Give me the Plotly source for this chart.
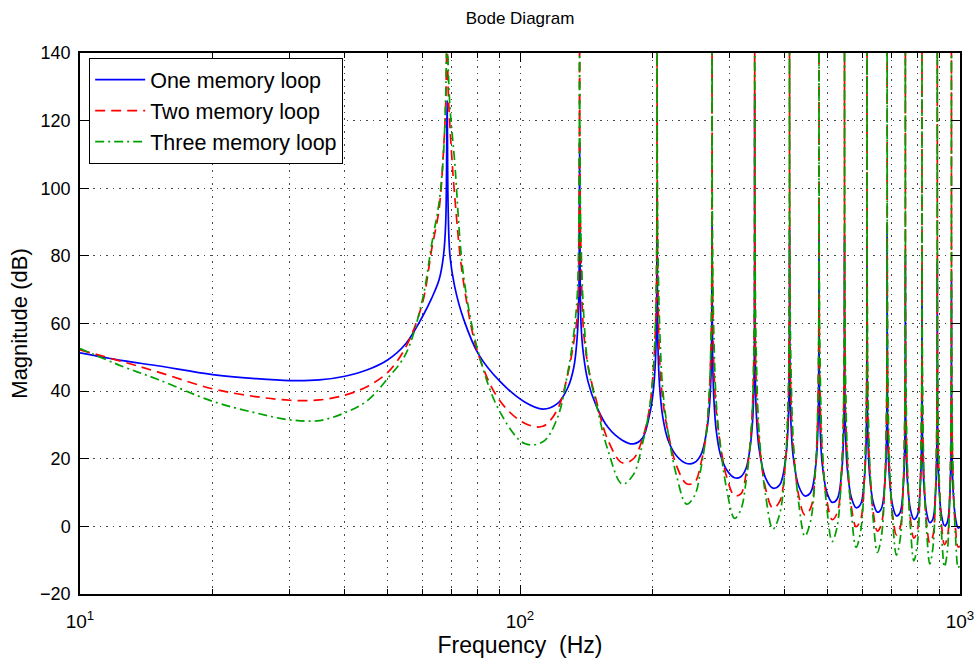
import plotly.graph_objects as go

# ---------------- data ----------------
freq = [
    10, 12.5, 15, 20, 25, 30, 35, 40, 45, 50, 55, 60, 63, 65.5, 67, 67.8, 68.3,
    68.64, 69.32, 71.03, 74.45, 80.59, 90.16, 102.45, 112.7, 121.57, 128.4, 132.5, 134.89, 136.05, 136.6,
    136.94, 137.62, 139.33, 142.75, 148.89, 158.46, 170.75, 181.0, 189.87, 196.7, 200.8, 203.19, 204.35, 204.9,
    205.24, 205.92, 207.63, 211.05, 217.19, 226.76, 239.05, 249.3, 258.17, 265.0, 269.1, 271.49, 272.65, 273.2,
    273.54, 274.22, 275.93, 279.35, 285.49, 295.06, 307.35, 317.6, 326.47, 333.3, 337.4, 339.79, 340.95, 341.5,
    342.18, 344.23, 349.7, 361.99, 375.65, 389.31, 401.6, 407.07, 409.12, 409.8,
    410.48, 412.53, 418.0, 430.29, 443.95, 457.61, 469.9, 475.37, 477.42, 478.1,
    478.78, 480.83, 486.3, 498.59, 512.25, 525.91, 538.2, 543.67, 545.72, 546.4,
    547.08, 549.13, 554.6, 566.89, 580.55, 594.21, 606.5, 611.97, 614.02, 614.7,
    615.38, 617.43, 622.9, 635.19, 648.85, 662.51, 674.8, 680.27, 682.32, 683.0,
    683.68, 685.73, 691.2, 703.49, 717.15, 730.81, 743.1, 748.57, 750.62, 751.3,
    751.98, 754.03, 759.5, 771.79, 785.45, 799.11, 811.4, 816.87, 818.92, 819.6,
    820.28, 822.33, 827.8, 840.09, 853.75, 867.41, 879.7, 885.17, 887.22, 887.9,
    888.58, 890.63, 896.1, 908.39, 922.05, 935.71, 948.0, 953.47, 955.52, 956.2,
    956.88, 958.93, 964.4, 976.69, 990.35, 1000,
]

mag_one = [
    51.3, 49.0, 47.5, 44.9, 43.7, 43.1, 43.3, 44.4, 46.3, 49.2, 54.0, 62.0, 67.5, 73.0, 80.0, 90.0, 126,
    95, 80, 71, 61.3, 50.8, 42.8, 36.8, 34.7, 36.3, 41, 47, 56, 68, 113,
    79, 60, 51, 42.8, 35.8, 29.3, 25.5, 24.4, 26.1, 32.6, 39.8, 49.3, 62.3, 100,
    70.4, 52.4, 41.4, 32.4, 25.4, 20.9, 18.6, 18.9, 21.4, 27.4, 34.4, 43.4, 56.4, 92,
    66.2, 48.2, 37.2, 28.2, 21.2, 16.7, 14.4, 14.7, 17.2, 23.2, 30.2, 39.2, 52.2, 128,
    53.1, 34.1, 22.6, 14.1, 11.3, 12.3, 20.1, 31.1, 47.1, 88,
    50.8, 31.8, 20.3, 11.8, 9.0, 10.0, 17.8, 28.8, 44.8, 86,
    48.9, 29.9, 18.4, 9.9, 7.1, 8.1, 15.9, 26.9, 42.9, 86,
    47.3, 28.3, 16.8, 8.3, 5.5, 6.5, 14.3, 25.3, 41.3, 84,
    46.0, 27.0, 15.5, 7.0, 4.2, 5.2, 13.0, 24.0, 40.0, 89,
    44.9, 25.9, 14.4, 5.9, 3.1, 4.1, 11.9, 22.9, 38.9, 80,
    43.9, 24.9, 13.4, 4.9, 2.1, 3.1, 10.9, 21.9, 37.9, 76,
    42.9, 23.9, 12.4, 3.9, 1.1, 2.1, 9.9, 20.9, 36.9, 78,
    42.0, 23.0, 11.5, 3.0, 0.2, 1.2, 9.0, 20.0, 36.0, 73,
    41.4, 22.4, 10.9, 2.4, -0.5, -0.1,
]

mag_two = [
    52.2, 48.7, 45.7, 40.7, 38.4, 37.3, 37.4, 38.8, 41.4, 45.5, 53.0, 66.0, 82.0, 94.0, 111.0, 125.0, 150,
    130, 118, 98, 72, 50.5, 37, 30.5, 29.6, 34.5, 45, 54.5, 62, 80, 150,
    98.5, 80.5, 58.5, 47.5, 37.5, 25.5, 18.8, 20, 26, 34.5, 45.5, 58.5, 73.5, 150,
    87.5, 69.5, 49.5, 37.5, 27.5, 18, 12.6, 13.0, 19, 27.5, 38.5, 51.5, 66.5, 150,
    84, 66, 46, 34, 24, 14.5, 9.1, 9.6, 15.5, 24, 35, 48, 63, 150,
    70.9, 41.9, 24.9, 10.9, 5.4, 7.4, 19.9, 36.9, 56.9, 150,
    68.9, 39.9, 22.9, 8.9, 3.4, 5.4, 17.9, 34.9, 54.9, 150,
    67.5, 38.5, 21.5, 7.5, 2.0, 4.0, 16.5, 33.5, 53.5, 150,
    65.4, 36.4, 19.4, 5.4, -0.1, 1.9, 14.4, 31.4, 51.4, 150,
    64.1, 35.1, 18.1, 4.1, -1.4, 0.6, 13.1, 30.1, 50.1, 150,
    63.0, 34.0, 17.0, 3.0, -2.5, -0.5, 12.0, 29.0, 49.0, 150,
    62.0, 33.0, 16.0, 2.0, -3.5, -1.5, 11.0, 28.0, 48.0, 150,
    60.6, 31.6, 14.6, 0.6, -4.9, -2.9, 9.6, 26.6, 46.6, 150,
    60.1, 31.1, 14.1, 0.1, -5.4, -3.4, 9.1, 26.1, 46.1, 150,
    59.4, 30.4, 13.4, -0.6, -6.1, -5.8,
]

mag_three = [
    52.6, 47.3, 43.5, 37.0, 33.6, 31.5, 31.3, 33.6, 37.2, 43.7, 51.0, 67.0, 83.5, 96.0, 110.0, 128.0, 150,
    137, 124, 108, 74, 51, 33.7, 24.5, 25, 32, 45.5, 57, 68, 88, 150,
    104.5, 84.5, 64.5, 47.5, 36.5, 22.5, 12.5, 15.3, 24.5, 34.5, 45.5, 60.5, 77.5, 150,
    101.6, 81.6, 59.6, 40.6, 27.6, 15.1, 6.6, 9.1, 17.6, 27.6, 38.6, 53.6, 70.6, 150,
    97.4, 77.4, 55.4, 36.4, 23.4, 10.9, 2.4, 4.9, 13.4, 23.4, 34.4, 49.4, 66.4, 150,
    84.2, 52.2, 27.2, 8.7, -0.8, 3.7, 20.2, 39.2, 61.2, 150,
    82.1, 50.1, 25.1, 6.6, -2.9, 1.6, 18.1, 37.1, 59.1, 150,
    80.5, 48.5, 23.5, 5.0, -4.5, 0.0, 16.5, 35.5, 57.5, 150,
    78.8, 46.8, 21.8, 3.3, -6.2, -1.7, 14.8, 33.8, 55.8, 150,
    77.3, 45.3, 20.3, 1.8, -7.7, -3.2, 13.3, 32.3, 54.3, 150,
    76.5, 44.5, 19.5, 1.0, -8.5, -4.0, 12.5, 31.5, 53.5, 150,
    74.8, 42.8, 17.8, -0.7, -10.2, -5.7, 10.8, 29.8, 51.8, 150,
    73.9, 41.9, 16.9, -1.6, -11.1, -6.6, 9.9, 28.9, 50.9, 150,
    73.0, 41.0, 16.0, -2.5, -12.0, -7.5, 9.0, 28.0, 50.0, 150,
    72.7, 40.7, 15.7, -2.8, -12.3, -10.8,
]

series_names = ["One memory loop", "Two memory loop", "Three memory loop"]
x_tick_vals = [10, 100, 1000]
x_tick_text = ["10<sup>1</sup>", "10<sup>2</sup>", "10<sup>3</sup>"]
x_minor_vals = [20, 30, 40, 50, 60, 70, 80, 90, 200, 300, 400, 500, 600, 700, 800, 900]
y_tick_vals = [-20, 0, 20, 40, 60, 80, 100, 120, 140]

assert len(freq) == len(mag_one) == len(mag_two) == len(mag_three)

# ---------------- figure ----------------
FONT = "Liberation Sans, Arial, Helvetica, sans-serif"
GRID = "rgba(40,40,40,0.85)"
GRID_DASH = "1.5px,5px"

styles = [
    dict(color="#0000FF", width=1.7, shape="spline", smoothing=1.0),
    dict(color="#FF0000", width=1.7, dash="10px,6px", shape="spline", smoothing=1.0),
    dict(color="#00A000", width=1.7, dash="9px,4px,2px,4px", shape="spline", smoothing=1.0),
]

fig = go.Figure()
for name, mag, st in zip(series_names, [mag_one, mag_two, mag_three], styles):
    fig.add_trace(go.Scatter(x=freq, y=mag, mode="lines", name=name,
                             line=st, legendgroup=name))

fig.update_layout(
    width=979, height=659,
    margin=dict(l=80, r=19, t=53, b=65, autoexpand=False),
    paper_bgcolor="white", plot_bgcolor="white",
    font=dict(family=FONT, color="black"),
    title=dict(text="Bode Diagram", x=0.5, xref="paper", xanchor="center",
               y=1 - 18 / 659, yref="container", yanchor="middle",
               font=dict(size=17, family=FONT, color="black")),
    showlegend=True,
    legend=dict(x=0.0102, y=0.9908, xanchor="left", yanchor="top",
                bgcolor="white", bordercolor="black", borderwidth=1.2,
                font=dict(size=21.5, family=FONT, color="black"),
                itemwidth=50,
                traceorder="grouped", tracegroupgap=0),
)

fig.update_xaxes(
    type="log", range=[1, 3], automargin=False,
    tickmode="array", tickvals=x_tick_vals, ticktext=x_tick_text,
    tickfont=dict(size=19, family=FONT), ticklabelstandoff=9,
    ticks="inside", ticklen=9, tickwidth=1, tickcolor="black",
    showline=True, linecolor="black", linewidth=1.5, mirror="allticks",
    showgrid=True, gridcolor=GRID, gridwidth=1, griddash=GRID_DASH,
    zeroline=False,
    minor=dict(tickmode="array", tickvals=x_minor_vals, ticks="inside",
               ticklen=5, tickwidth=1, tickcolor="black",
               showgrid=True, gridcolor=GRID, gridwidth=1, griddash=GRID_DASH),
    title=dict(text="Frequency\u00a0 (Hz)", font=dict(size=23, family=FONT), standoff=0),
)

fig.update_yaxes(
    range=[-20, 140], automargin=False,
    tickmode="array", tickvals=y_tick_vals,
    tickfont=dict(size=18, family=FONT), ticklabelstandoff=4,
    ticks="inside", ticklen=9, tickwidth=1, tickcolor="black",
    showline=True, linecolor="black", linewidth=1.5, mirror="allticks",
    showgrid=True, gridcolor=GRID, gridwidth=1, griddash=GRID_DASH,
    zeroline=False,
    title=dict(text="Magnitude (dB)", font=dict(size=22, family=FONT), standoff=6),
)

fig.write_html("out.html", config={"displayModeBar": False},
               post_script="document.body.style.margin='0px';")
